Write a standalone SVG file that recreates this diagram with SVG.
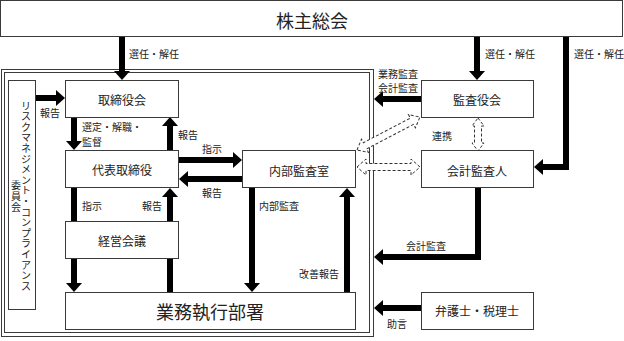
<svg xmlns="http://www.w3.org/2000/svg" width="624" height="341" viewBox="0 0 624 341">
<style>
.box{fill:#fff;stroke:#3a3a3a;stroke-width:1}
.frame{fill:none;stroke:#3a3a3a;stroke-width:1}
.t{font-family:"Noto Sans CJK JP","Noto Sans",sans-serif;fill:#222;dominant-baseline:central}
.n{font-size:12px;text-anchor:middle}
.big{font-size:18px;text-anchor:middle}
.s{font-size:10px}
.c{stroke:#000;stroke-width:6;fill:none;stroke-linejoin:miter;marker-end:url(#ah)}
.d{fill:#fff;stroke:#333;stroke-width:1;stroke-dasharray:3,2}
</style>
<defs>
<marker id="ah" markerUnits="userSpaceOnUse" markerWidth="10" markerHeight="16" refX="1" refY="8" orient="auto" overflow="visible">
<path d="M0,0 L9,8 L0,16 Z" fill="#000"/>
</marker>
</defs>
<rect width="624" height="341" fill="#fff"/>
<g id="frame">
<rect class="frame" x="1.5" y="69.5" width="372" height="267"/>
<rect class="frame" x="4.5" y="72.5" width="365" height="260"/>
</g>
<g id="connectors">
<path class="c" d="M122,37 V72"/>
<path class="c" d="M477,37 V72"/>
<path class="c" d="M566,37 V167 H542"/>
<path class="c" d="M36,98 H57"/>
<path class="c" d="M74,117 V142"/>
<path class="c" d="M170,150 V125"/>
<path class="c" d="M179,160 H234"/>
<path class="c" d="M242,179 H187"/>
<path class="c" d="M74,188 V284"/>
<path class="c" d="M170,292 V196"/>
<path class="c" d="M252,188 V284"/>
<path class="c" d="M347,292 V196"/>
<path class="c" d="M421,99 H382"/>
<path class="c" d="M478,188 V257 H382"/>
<path class="c" d="M421,308 H382"/>
<polygon class="d" points="478,118 484,126 481.5,126 481.5,143 484,143 478,151 472,143 474.5,143 474.5,126 472,126"/>
<polygon class="d" points="357,167 366,159 366,163.5 411,163.5 411,159 420,167 411,175 411,170.5 366,170.5 366,175"/>
<polygon class="d" transform="translate(357,150) rotate(-27.65)" points="0,0 9,-7.5 9,-3.5 62,-3.5 62,-7.5 71,0 62,7.5 62,3.5 9,3.5 9,7.5"/>
<text class="t s" x="129" y="53">選任・解任</text>
<text class="t s" x="485" y="53">選任・解任</text>
<text class="t s" x="574" y="53">選任・解任</text>
<text class="t s" x="40" y="112">報告</text>
<text class="t s" x="82" y="126.5">選定・解職・</text>
<text class="t s" x="82" y="141.5">監督</text>
<text class="t s" x="178" y="134">報告</text>
<text class="t s" x="202" y="148">指示</text>
<text class="t s" x="202" y="192">報告</text>
<text class="t s" x="82" y="205">指示</text>
<text class="t s" x="142" y="205">報告</text>
<text class="t s" x="259" y="205">内部監査</text>
<text class="t s" x="299" y="273">改善報告</text>
<text class="t s" x="378" y="73">業務監査</text>
<text class="t s" x="378" y="87">会計監査</text>
<text class="t s" x="432" y="135">連携</text>
<text class="t s" x="406" y="245">会計監査</text>
<text class="t s" x="387" y="323">助言</text>
</g>
<g id="shareholders">
<rect class="box" x="0.5" y="0.5" width="622" height="36"/>
<text class="t big" x="312" y="20">株主総会</text>
</g>
<g id="risk">
<rect class="box" x="8.5" y="80.5" width="27" height="229"/>
<text class="t s" text-anchor="middle" x="26 26 26 26 26 26 26 26 26 26 26 26 26 26 26 26 26 26" y="105 115.6 126.2 136.8 147.4 158 168.6 179.2 189.8 200.4 211 221.6 232.2 242.8 253.4 264 274.6 285.2">リスクマネジメント・コンプライアンス</text>
<text class="t s" text-anchor="middle" x="16 16 16" y="184 195 206">委員会</text>
</g>
<g id="board">
<rect class="box" x="65.5" y="80.5" width="113" height="37"/>
<text class="t n" x="122" y="99">取締役会</text>
</g>
<g id="rep">
<rect class="box" x="65.5" y="150.5" width="113" height="37"/>
<text class="t n" x="122" y="169">代表取締役</text>
</g>
<g id="mgmt">
<rect class="box" x="65.5" y="221.5" width="113" height="37"/>
<text class="t n" x="122" y="240">経営会議</text>
</g>
<g id="exec">
<rect class="box" x="65.5" y="292.5" width="290" height="37"/>
<text class="t big" x="210" y="311">業務執行部署</text>
</g>
<g id="internal">
<rect class="box" x="242.5" y="150.5" width="113" height="37"/>
<text class="t n" x="299" y="170">内部監査室</text>
</g>
<g id="kansayaku">
<rect class="box" x="421.5" y="80.5" width="112" height="37"/>
<text class="t n" x="477" y="99">監査役会</text>
</g>
<g id="auditor">
<rect class="box" x="421.5" y="150.5" width="112" height="37"/>
<text class="t n" x="477" y="170">会計監査人</text>
</g>
<g id="lawyer">
<rect class="box" x="421.5" y="292.5" width="112" height="37"/>
<text class="t n" x="477" y="310">弁護士・税理士</text>
</g>
</svg>
